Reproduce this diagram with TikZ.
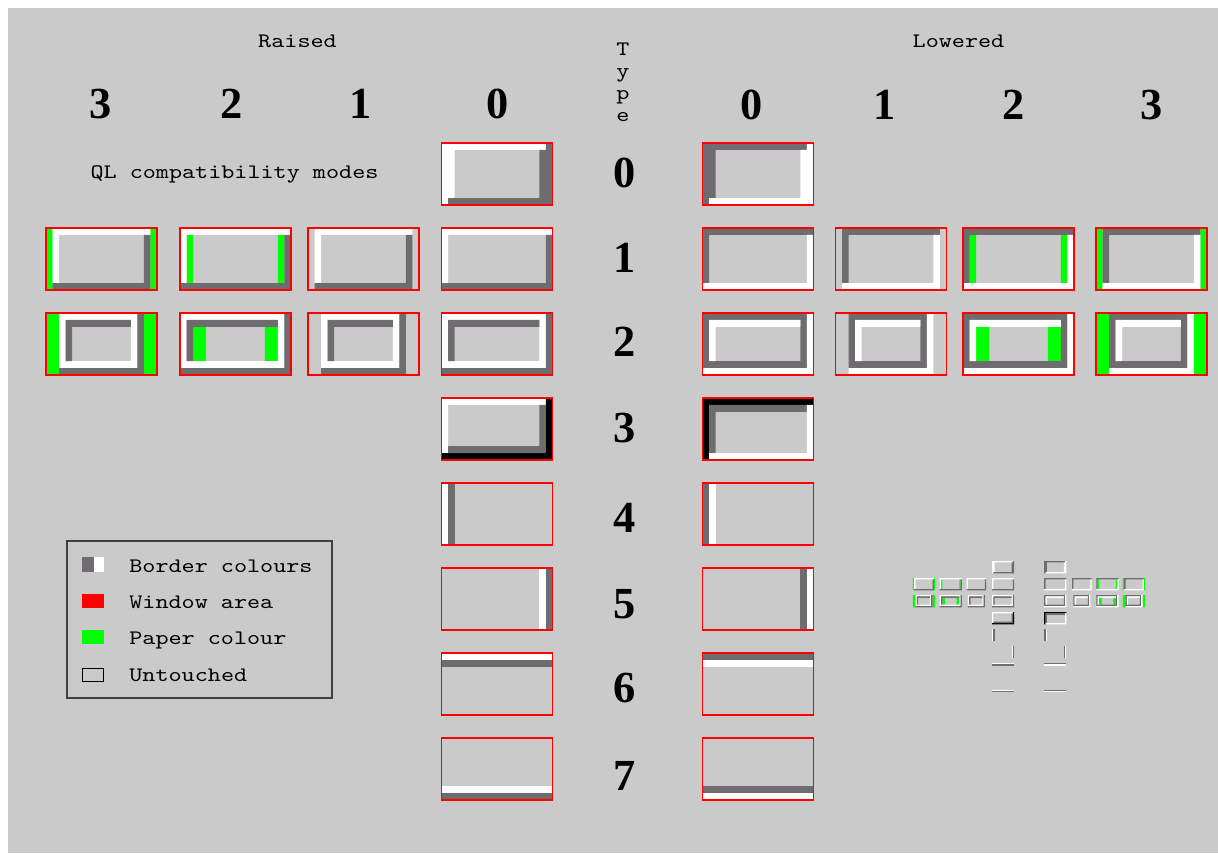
\documentclass[tikz,border=0pt]{standalone}
\usepackage{fontspec}
\setmainfont{Liberation Serif}
\setmonofont{lmmono10-regular.otf}[FakeStretch=1.21]
\usepackage{tikz}
\definecolor{qlgrey}{RGB}{202,202,202}
\definecolor{qldark}{RGB}{110,108,110}
\definecolor{qlred}{RGB}{255,0,0}
\definecolor{qlgreen}{RGB}{0,255,0}
\definecolor{keygrey}{RGB}{64,64,64}
\tikzset{
  heading/.style={font=\ttfamily\fontsize{10.3}{13}\selectfont,inner sep=0pt,anchor=base},
  keytext/.style={font=\ttfamily\fontsize{10.3}{13}\selectfont,inner sep=0pt,anchor=base west},
  bignum/.style={font=\bfseries\fontsize{22.2}{26}\selectfont,inner sep=0pt},
  winarea/.style={draw=qlred,line width=0.6pt},
  cellunits/.style={x=3.2647pt,y=-3.4444pt}
}
\newif\ifqlframe
\qlframetrue
% border shapes, in cells of a 17 x 9 window
\newcommand{\brdzero}[2]{%
  \fill[#1] (0,0) rectangle (16,1) (0,1) rectangle (2,8) (0,8) rectangle (1,9);
  \fill[#2] (16,0) rectangle (17,1) (15,1) rectangle (17,9) (1,8) rectangle (15,9);}
\newcommand{\brdone}[4]{%
  \fill[#1] (#3,0) rectangle (#4,1) (#3,1) rectangle ({#3+1},8);
  \fill[#2] (#3,8) rectangle (#4,9) ({#4-1},1) rectangle (#4,8);}
\newcommand{\brdtwo}[4]{%
  \fill[#1] (#3,0) rectangle ({#4-1},1) (#3,1) rectangle ({#3+1},8)
    ({#4-2},1) rectangle ({#4-1},8) ({#3+1},7) rectangle ({#4-2},8);
  \fill[#2] ({#4-1},0) rectangle (#4,9) (#3,8) rectangle ({#4-1},9)
    ({#3+1},1) rectangle ({#4-2},2) ({#3+1},2) rectangle ({#3+2},7);}
\newcommand{\brdthreeup}{%
  \fill[white] (0,0) rectangle (16,1) (0,1) rectangle (1,8);
  \fill[black] (16,0) rectangle (17,9) (0,8) rectangle (16,9);
  \fill[qldark] (15,1) rectangle (16,8) (1,7) rectangle (15,8);}
\newcommand{\brdthreedown}{%
  \fill[black] (0,0) rectangle (17,1) (0,1) rectangle (1,9);
  \fill[qldark] (1,1) rectangle (16,2) (1,2) rectangle (2,8);
  \fill[white] (16,1) rectangle (17,9) (1,8) rectangle (16,9);}
\newcommand{\brdleft}[2]{\fill[#1] (0,0) rectangle (1,9); \fill[#2] (1,0) rectangle (2,9);}
\newcommand{\brdright}[2]{\fill[#1] (15,0) rectangle (16,9); \fill[#2] (16,0) rectangle (17,9);}
\newcommand{\brdtop}[2]{\fill[#1] (0,0) rectangle (17,1); \fill[#2] (0,1) rectangle (17,2);}
\newcommand{\brdbottom}[2]{\fill[#1] (0,7) rectangle (17,8); \fill[#2] (0,8) rectangle (17,9);}
\newcommand{\qlwin}[3]{%
  \begin{scope}[shift={(#1,#2)},cellunits]
    #3
    \ifqlframe\draw[winarea] (0,0) rectangle (17,9);\fi
  \end{scope}}
\newcommand{\qlwindows}{%
  % raised
  \qlwin{441.5}{143}{\brdzero{white}{qldark}}
  \qlwin{441.5}{228}{\brdone{white}{qldark}{0}{17}}
  \qlwin{441.5}{313}{\brdtwo{white}{qldark}{0}{17}}
  \qlwin{441.5}{398}{\brdthreeup}
  \qlwin{441.5}{483}{\brdleft{white}{qldark}}
  \qlwin{441.5}{568}{\brdright{white}{qldark}}
  \qlwin{441.5}{653}{\brdtop{white}{qldark}}
  \qlwin{441.5}{738}{\brdbottom{white}{qldark}}
  \qlwin{308}{228}{\brdone{white}{qldark}{1}{16}}
  \qlwin{180}{228}{\fill[qlgreen] (1,1) rectangle (2,8) (15,1) rectangle (16,8);
    \brdone{white}{qldark}{0}{17}}
  \qlwin{46}{228}{\fill[qlgreen] (0,0) rectangle (1,9) (16,0) rectangle (17,9);
    \brdone{white}{qldark}{1}{16}}
  \qlwin{308}{313}{\brdtwo{white}{qldark}{2}{15}}
  \qlwin{180}{313}{\fill[qlgreen] (2,2) rectangle (4,7) (13,2) rectangle (15,7);
    \brdtwo{white}{qldark}{0}{17}}
  \qlwin{46}{313}{\fill[qlgreen] (0,0) rectangle (2,9) (15,0) rectangle (17,9);
    \brdtwo{white}{qldark}{2}{15}}
  % lowered
  \qlwin{702.5}{143}{\brdzero{qldark}{white}}
  \qlwin{702.5}{228}{\brdone{qldark}{white}{0}{17}}
  \qlwin{702.5}{313}{\brdtwo{qldark}{white}{0}{17}}
  \qlwin{702.5}{398}{\brdthreedown}
  \qlwin{702.5}{483}{\brdleft{qldark}{white}}
  \qlwin{702.5}{568}{\brdright{qldark}{white}}
  \qlwin{702.5}{653}{\brdtop{qldark}{white}}
  \qlwin{702.5}{738}{\brdbottom{qldark}{white}}
  \qlwin{835.5}{228}{\brdone{qldark}{white}{1}{16}}
  \qlwin{963}{228}{\fill[qlgreen] (1,1) rectangle (2,8) (15,1) rectangle (16,8);
    \brdone{qldark}{white}{0}{17}}
  \qlwin{1096}{228}{\fill[qlgreen] (0,0) rectangle (1,9) (16,0) rectangle (17,9);
    \brdone{qldark}{white}{1}{16}}
  \qlwin{835.5}{313}{\brdtwo{qldark}{white}{2}{15}}
  \qlwin{963}{313}{\fill[qlgreen] (2,2) rectangle (4,7) (13,2) rectangle (15,7);
    \brdtwo{qldark}{white}{0}{17}}
  \qlwin{1096}{313}{\fill[qlgreen] (0,0) rectangle (2,9) (15,0) rectangle (17,9);
    \brdtwo{qldark}{white}{2}{15}}}

\begin{document}
\begin{tikzpicture}[x=0.5pt,y=-0.5pt]
  \useasboundingbox (0,0) rectangle (1218,853);
  \fill[white] (0,0) rectangle (1218,853);
  \fill[qlgrey] (8,8) rectangle (1218,853);

  \node[heading] (raised) at (297.5,47) {Raised};
  \node[heading] (lowered) at (958.5,47.5) {Lowered};
  \foreach \ch [count=\i] in {T,y,p,e}
    \node[heading] (typeletter\i) at (623,{55+22.2*(\i-1)}) {\ch};
  \foreach \n/\xpos in {3/101,2/232,1/361,0/498}
    \node[bignum,anchor=base] (raised\n) at (\xpos,118.5) {\n};
  \foreach \n/\xpos in {0/752,1/885,2/1014,3/1152}
    \node[bignum,anchor=base] (lowered\n) at (\xpos,119) {\n};
  \foreach \t/\ypos in {0/173,1/258,2/342,3/428,4/518,5/604,6/688,7/776}
    \node[bignum] (type\t) at (625,\ypos) {\t};
  \node[heading] (qlmodes) at (234.5,178) {QL compatibility modes};

  \qlwindows

  % miniature of the whole set
  \begin{scope}[shift={(903.7,532.4)},scale=0.2]
    \qlframefalse
    \qlwindows
  \end{scope}

  % key
  \draw[keygrey,line width=0.6pt] (67,541) rectangle (332,698);
  \fill[qldark] (82,557) rectangle (93.5,572);
  \fill[white] (93.5,557) rectangle (104,572);
  \fill[qlred] (82,594) rectangle (104,608);
  \fill[qlgreen] (82,630) rectangle (104,644);
  \draw[black,line width=0.5pt] (82.5,668) rectangle (103.5,681);
  \node[keytext] (keyborder) at (129,572) {Border colours};
  \node[keytext] (keywindow) at (129,608) {Window area};
  \node[keytext] (keypaper) at (129,644) {Paper colour};
  \node[keytext] (keyuntouched) at (129,681) {Untouched};
\end{tikzpicture}
\end{document}
